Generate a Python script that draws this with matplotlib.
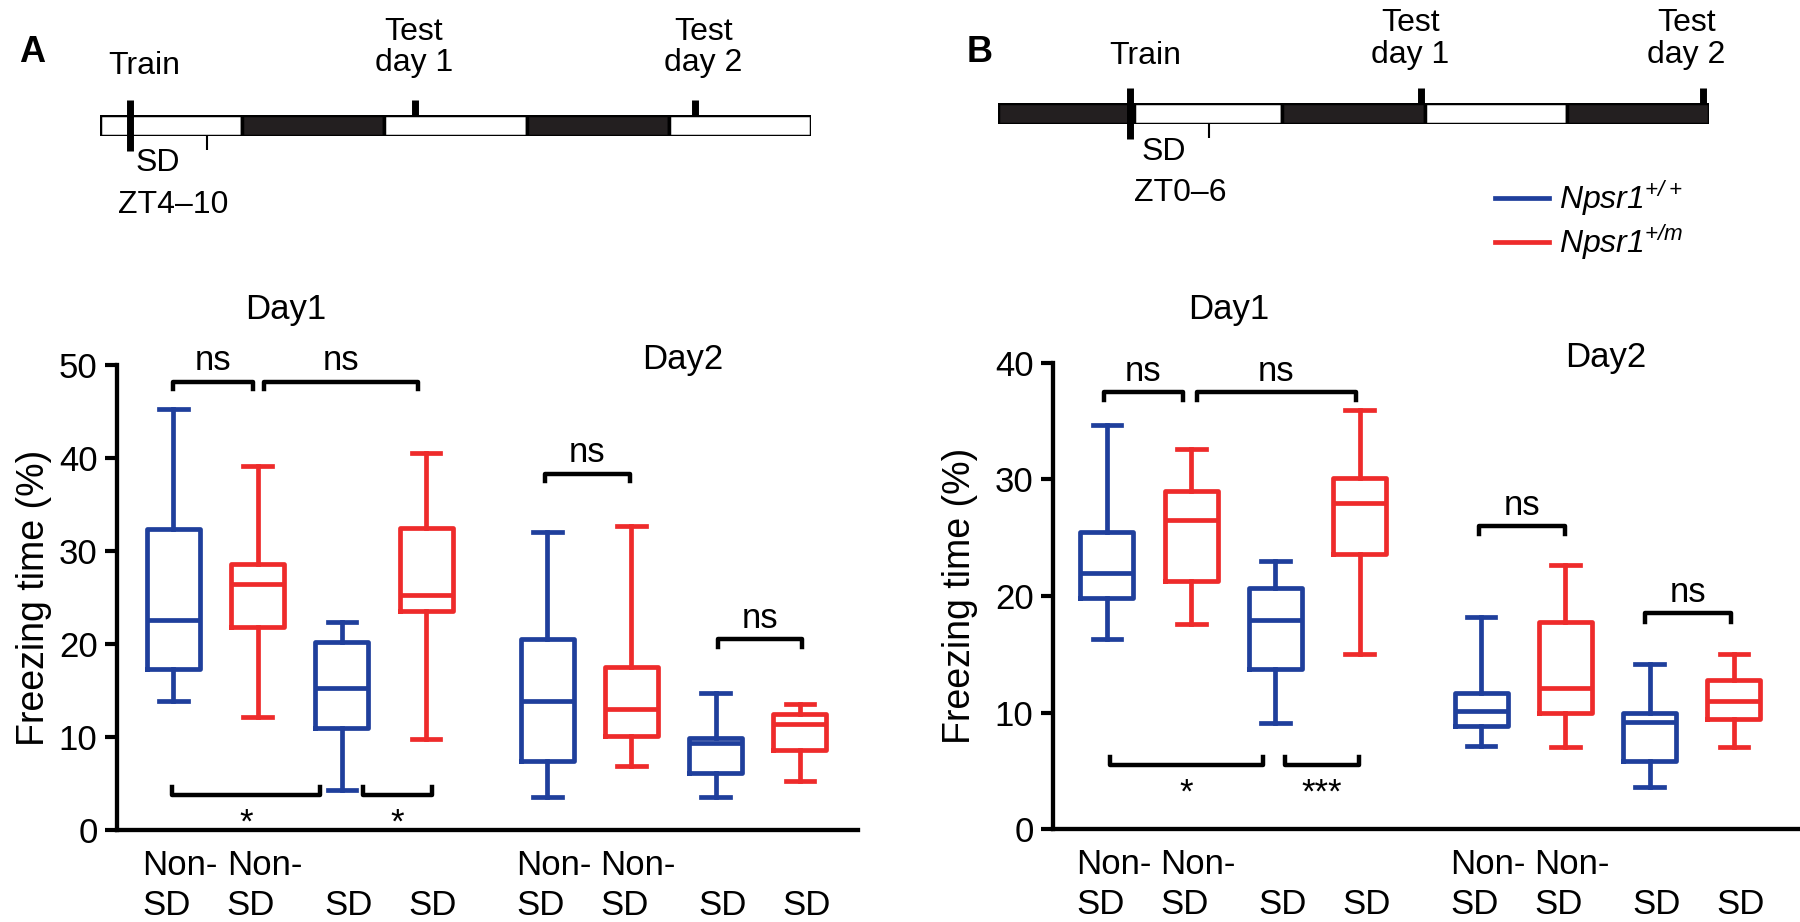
import numpy as np
import matplotlib
matplotlib.use('Agg')
import matplotlib.pyplot as plt
from matplotlib.lines import Line2D

plt.rcParams['font.family'] = ['Liberation Sans', 'DejaVu Sans']

blue = '#1f3f9c'
red = '#ee2b2b'
dark = '#231f20'

# group labels and genotype colours (same order in both panels)
groups = ['Non-\nSD', 'Non-\nSD', ' \nSD', ' \nSD'] * 2
colors = [blue, red, blue, red] * 2

# panel A box statistics (freezing time %)
a_hi = [45.3, 39.1, 22.4, 40.5, 32.0, 32.7, 14.7, 13.5]
a_q3 = [32.4, 28.6, 20.2, 32.5, 20.5, 17.5, 9.9, 12.5]
a_med = [22.6, 26.4, 15.3, 25.3, 13.9, 13.0, 9.4, 11.4]
a_q1 = [17.3, 21.8, 11.0, 23.5, 7.4, 10.1, 6.1, 8.6]
a_lo = [13.9, 12.1, 4.3, 9.8, 3.6, 6.9, 3.6, 5.3]

# panel B box statistics
b_hi = [34.7, 32.6, 23.0, 36.0, 18.2, 22.7, 14.2, 15.0]
b_q3 = [25.5, 29.0, 20.7, 30.1, 11.7, 17.8, 10.0, 12.8]
b_med = [22.0, 26.5, 17.9, 28.0, 10.1, 12.1, 9.2, 11.0]
b_q1 = [19.8, 21.3, 13.7, 23.6, 8.8, 10.0, 5.8, 9.4]
b_lo = [16.3, 17.6, 9.1, 15.0, 7.1, 7.0, 3.6, 7.0]

# significance brackets: (from, to, height, label)
a_top = [(1.0, 1.94, 48.2, 'ns'), (2.08, 3.90, 48.2, 'ns'),
         (5.41, 6.42, 38.3, 'ns'), (7.47, 8.47, 20.5, 'ns')]
a_bottom = [(0.98, 2.74, 3.8, '*'), (3.25, 4.07, 3.8, '*')]
b_top = [(0.96, 1.90, 37.5, 'ns'), (2.07, 3.95, 37.5, 'ns'),
         (5.42, 6.43, 26.0, 'ns'), (7.39, 8.40, 18.5, 'ns')]
b_bottom = [(1.04, 2.85, 5.5, '*'), (3.11, 3.99, 5.5, '***')]

pos = np.array([1, 2, 3, 4, 5.44, 6.44, 7.44, 8.44])

fig = plt.figure(figsize=(18, 9.22), dpi=100)
axA = fig.add_axes([117/1800, 92/922, 741/1800, 465/922])
axB = fig.add_axes([1053/1800, 93/922, 745/1800, 466/922])


def panel(ax, hi, q3, med, q1, lo, ymax, xmin, xmax, top, bottom, tip):
    for i in range(len(med)):
        c = colors[i]
        st = dict(med=med[i], q1=q1[i], q3=q3[i], whislo=lo[i], whishi=hi[i])
        ax.bxp([st], positions=[pos[i]], widths=0.63, capwidths=[0.34],
               showfliers=False, manage_ticks=False,
               boxprops=dict(color=c, lw=3.4), whiskerprops=dict(color=c, lw=3.4),
               capprops=dict(color=c, lw=3.4), medianprops=dict(color=c, lw=3.4))
    for x0, x1, y, lab in top:
        ax.plot([x0, x0, x1, x1], [y - tip, y, y, y - tip], color='black',
                lw=3.2, clip_on=False)
        ax.annotate(lab, xy=((x0 + x1) / 2, y), xytext=(0, 15),
                    textcoords='offset points', ha='center', va='center',
                    fontsize=25, annotation_clip=False)
    for x0, x1, y, lab in bottom:
        ax.plot([x0, x0, x1, x1], [y + tip, y, y, y + tip], color='black',
                lw=3.2, clip_on=False)
        ax.annotate(lab, xy=((x0 + x1) / 2, y), xytext=(0, -27),
                    textcoords='offset points', ha='center', va='baseline',
                    fontsize=25, annotation_clip=False)
    ax.set_xlim(xmin, xmax)
    ax.set_ylim(0, ymax)
    ax.set_yticks(range(0, ymax + 1, 10))
    ax.set_xticks(pos + 0.08, groups)
    for lab in ax.get_xticklabels():
        lab.set_multialignment('left')
        lab.set_linespacing(1.25)
    ax.tick_params(axis='x', length=0, pad=14, labelsize=25)
    ax.tick_params(axis='y', direction='out', length=9, width=3, pad=5,
                   labelsize=25)
    for s in ['top', 'right']:
        ax.spines[s].set_visible(False)
    for s in ['left', 'bottom']:
        ax.spines[s].set_linewidth(3.1)
    ax.set_ylabel('Freezing time (%)', fontsize=27)


panel(axA, a_hi, a_q3, a_med, a_q1, a_lo, 50, 0.33, 9.13, a_top, a_bottom, 0.8)
panel(axB, b_hi, b_q3, b_med, b_q1, b_lo, 40, 0.36, 9.2, b_top, b_bottom, 0.7)
axA.yaxis.set_label_coords(-0.088, 0.5)
axB.yaxis.set_label_coords(-0.1, 0.5)

axA.text(2.33, 56.0, 'Day1', ha='center', va='center', fontsize=25, clip_on=False)
axA.text(7.05, 50.6, 'Day2', ha='center', va='center', fontsize=25, clip_on=False)
axB.text(2.45, 44.6, 'Day1', ha='center', va='center', fontsize=25, clip_on=False)
axB.text(6.92, 40.5, 'Day2', ha='center', va='center', fontsize=25, clip_on=False)

# light/dark timelines (hours)
a_bounds = [0, 12, 24, 36, 48, 60]
a_phase = ['L', 'D', 'L', 'D', 'L']
a_train, a_sd_end, a_test1, a_test2 = 2.5, 9.0, 26.6, 50.2
b_bounds = [0, 11.5, 24, 36, 48, 60]
b_phase = ['D', 'L', 'D', 'L', 'D']
b_train, b_sd_end, b_test1, b_test2 = 11.1, 17.8, 35.7, 59.5


def timeline(rect, bounds, phase, train, sd_end, test1, test2, zt, txt):
    tl = fig.add_axes(rect)
    segs = [(bounds[i], bounds[i + 1] - bounds[i]) for i in range(len(phase))]
    fc = [dark if p == 'D' else 'white' for p in phase]
    tl.broken_barh(segs, (0, 1), facecolors=fc, edgecolor='black', lw=2.5)
    tl.set_xlim(0, 60)
    tl.set_ylim(0, 1)
    tl.axis('off')
    tl.plot([train, train], [-0.7, 1.7], color='black', lw=5,
            solid_capstyle='butt', clip_on=False)
    for t in [test1, test2]:
        tl.plot([t, t], [1, 1.7], color='black', lw=5,
                solid_capstyle='butt', clip_on=False)
    tl.plot([sd_end, sd_end], [0, -0.65], color='black', lw=1.5,
            solid_capstyle='butt', clip_on=False)
    kw = dict(ha='center', va='center', fontsize=23, clip_on=False,
              linespacing=1.05)
    tl.text(txt[0], txt[5], 'Train', **kw)
    tl.text(txt[1], txt[6], 'Test\nday 1', **kw)
    tl.text(txt[2], txt[6], 'Test\nday 2', **kw)
    tl.text(txt[3], txt[7], 'SD', **kw)
    tl.text(txt[4], txt[8], zt, **kw)


timeline([100/1800, 1 - 136/922, 711/1800, 21/922], a_bounds, a_phase,
         a_train, a_sd_end, a_test1, a_test2, 'ZT4–10',
         [3.7, 26.5, 50.9, 4.9, 6.2, 3.35, 4.2, -1.3, -3.3])
timeline([998/1800, 1 - 124/922, 711/1800, 21/922], b_bounds, b_phase,
         b_train, b_sd_end, b_test1, b_test2, 'ZT0–6',
         [12.4, 34.8, 58.1, 14.0, 15.4, 3.25, 4.05, -1.35, -3.3])

fig.text(32/1800, 1 - 52/922, 'A', fontsize=26, fontweight='bold',
         ha='center', va='center')
fig.text(980/1800, 1 - 52/922, 'B', fontsize=26, fontweight='bold',
         ha='center', va='center')

handles = [Line2D([], [], color=blue, lw=3.4), Line2D([], [], color=red, lw=3.4)]
labels = ['Npsr1$^{\\mathregular{+/+}}$', 'Npsr1$^{\\mathregular{+/m}}$']
fig.legend(handles, labels, loc='upper left',
           bbox_to_anchor=(1495/1800, 1 - 178/922), frameon=False,
           handlelength=1.7, handletextpad=0.3, borderpad=0,
           borderaxespad=0, labelspacing=0.15,
           prop=dict(size=23, style='italic'))

fig.savefig('out.png', dpi=100)
